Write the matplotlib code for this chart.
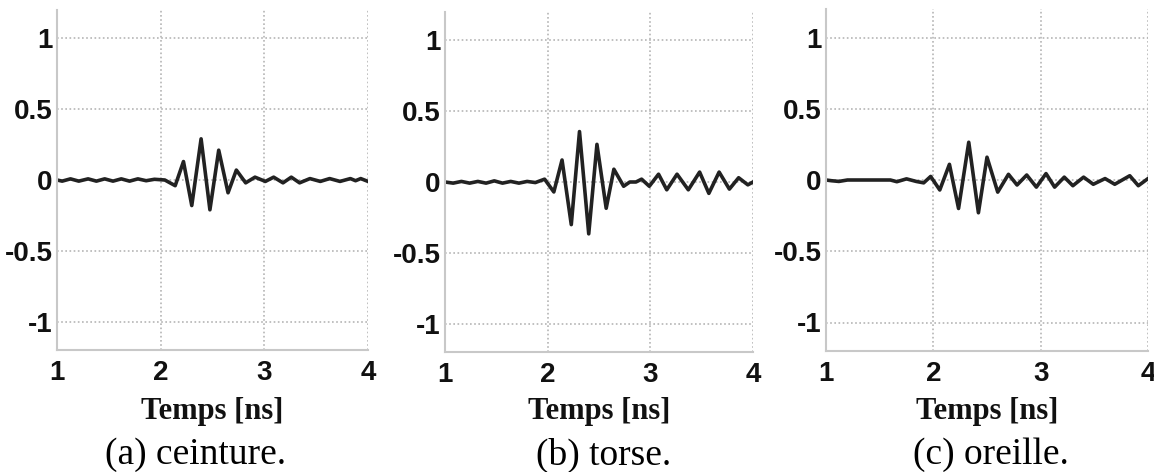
import matplotlib
matplotlib.use("Agg")
import matplotlib.pyplot as plt

# ---- data ----
t_a = [1.00, 1.05, 1.13, 1.21, 1.30, 1.38, 1.46, 1.54, 1.62, 1.70, 1.78, 1.86, 1.94,
       2.04, 2.14, 2.22, 2.30, 2.39, 2.475, 2.56, 2.65, 2.73, 2.82, 2.91, 3.01, 3.09,
       3.18, 3.26, 3.34, 3.44, 3.54, 3.63, 3.73, 3.83, 3.88, 3.93, 4.00]
v_a = [0.0, -0.008, 0.008, -0.008, 0.008, -0.008, 0.008, -0.008, 0.008, -0.008, 0.008, -0.005, 0.005,
       0.0, -0.04, 0.13, -0.18, 0.29, -0.21, 0.21, -0.09, 0.07, -0.02, 0.02, -0.01, 0.02,
       -0.02, 0.02, -0.02, 0.01, -0.01, 0.01, -0.01, 0.01, -0.005, 0.01, -0.01]

t_b = [1.00, 1.08, 1.16, 1.24, 1.32, 1.40, 1.48, 1.56, 1.64, 1.72, 1.80, 1.88, 1.97,
       2.06, 2.14, 2.23, 2.31, 2.40, 2.48, 2.57, 2.645, 2.74, 2.80, 2.86, 2.915, 2.99,
       3.08, 3.16, 3.26, 3.37, 3.48, 3.57, 3.67, 3.77, 3.86, 3.95, 4.00]
v_b = [0.0, -0.008, 0.004, -0.008, 0.004, -0.008, 0.008, -0.008, 0.004, -0.008, 0.004, -0.004, 0.02,
       -0.07, 0.155, -0.30, 0.355, -0.365, 0.265, -0.185, 0.09, -0.03, 0.0, 0.0, 0.02, -0.03,
       0.055, -0.055, 0.055, -0.055, 0.07, -0.08, 0.07, -0.05, 0.03, -0.02, 0.0]

t_c = [1.00, 1.05, 1.12, 1.20, 1.60, 1.66, 1.75, 1.84, 1.91, 1.975, 2.06, 2.15, 2.235,
       2.33, 2.42, 2.50, 2.60, 2.70, 2.78, 2.87, 2.96, 3.05, 3.13, 3.22, 3.30, 3.40,
       3.49, 3.60, 3.69, 3.83, 3.91, 4.00]
v_c = [0.0, -0.005, -0.01, 0.0, 0.0, -0.012, 0.008, -0.01, -0.02, 0.025, -0.07, 0.11, -0.20,
       0.265, -0.23, 0.16, -0.085, 0.04, -0.035, 0.035, -0.05, 0.045, -0.05, 0.02, -0.04, 0.02,
       -0.03, 0.01, -0.03, 0.03, -0.04, 0.01]

x_ticks = [1, 2, 3, 4]
y_ticks = [-1, -0.5, 0, 0.5, 1]
y_tick_labels = ["-1", "-0.5", "0", "0.5", "1"]
x_label = "Temps [ns]"
captions = ["(a) ceinture.", "(b) torse.", "(c) oreille."]

# ---- layout ----
W, H = 1154, 472
fig = plt.figure(figsize=(W / 100, H / 100), dpi=100)

# pixel boxes: (left, right, top, bottom)
boxes = [(57, 368, 9.6, 350.4), (445, 753, 11.6, 352.4), (826, 1148, 9.0, 351.0)]
caption_x = [196, 604, 991]
series = [(t_a, v_a), (t_b, v_b), (t_c, v_c)]

for i, ((l, r, t, b), (tt, vv)) in enumerate(zip(boxes, series)):
    ax = fig.add_axes([l / W, 1 - b / H, (r - l) / W, (b - t) / H])
    ax.plot(tt, vv, color="#222222", linewidth=2.6, solid_joinstyle="round")
    ax.set_xlim(1, 4)
    ax.set_ylim(-1.2, 1.2)
    ax.set_xticks(x_ticks)
    ax.set_yticks(y_ticks)
    ax.set_yticklabels(y_tick_labels)
    ax.grid(True, linestyle=(0, (1, 1.5)), color="#b5b5b5", linewidth=1.2)
    for s in ["top", "right"]:
        ax.spines[s].set_visible(False)
    for s in ["left", "bottom"]:
        ax.spines[s].set_color("#c8c8c8")
        ax.spines[s].set_linewidth(1.5)
    ax.tick_params(axis="both", length=0)
    ax.tick_params(axis="y", pad=3)
    ax.tick_params(axis="x", pad=7)
    for lab in ax.get_xticklabels() + ax.get_yticklabels():
        lab.set_fontfamily("Liberation Sans")
        lab.set_fontweight("bold")
        lab.set_fontsize(20)
        lab.set_color("#111111")
    cx = (l + r) / 2
    fig.text(cx / W, 1 - 412 / H, x_label, ha="center", va="center",
             fontfamily="Liberation Serif", fontweight="bold", fontsize=22, color="#111111")
    fig.text(caption_x[i] / W, 1 - 455 / H, captions[i], ha="center", va="center",
             fontfamily="Liberation Serif", fontsize=27, color="#000000")

fig.savefig("out.png", dpi=100)
